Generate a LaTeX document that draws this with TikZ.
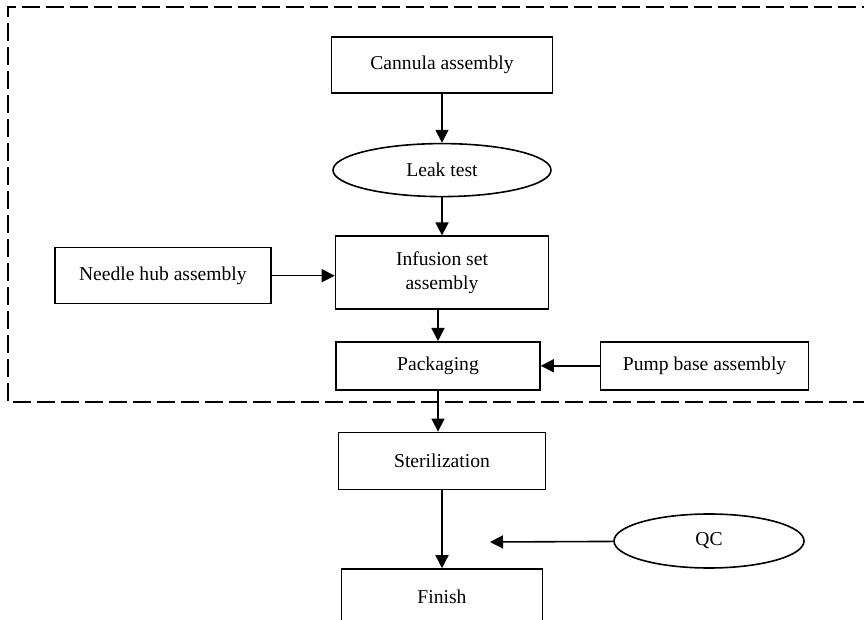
\documentclass[tikz,border=0pt]{standalone}
\usepackage{fontspec}
\setmainfont{Liberation Serif}
\usetikzlibrary{arrows.meta, positioning, shapes.geometric}

\begin{document}
\begin{tikzpicture}[x=0.5pt, y=-0.5pt, >={Triangle[length=6.5pt, width=6.5pt]},
  font=\fontsize{9.8}{12}\selectfont,
  box/.style={draw, line width=0.8pt, inner sep=0pt, align=center},
  oval/.style={draw, ellipse, line width=0.8pt, inner sep=0pt},
  flow/.style={->, line width=0.8pt}]
  \useasboundingbox (0,0) rectangle (864,620);
  \clip (0,0) rectangle (864,620);
  \draw[dash pattern=on 9pt off 3pt, line width=0.7pt] (880,7) -| (8,402) -- (880,402);

  \node[box, minimum width=110.5pt, minimum height=28pt] (cannula) at (442,65) {Cannula assembly};
  \node[oval, minimum width=109pt, minimum height=26.5pt, below=24.5pt of cannula] (leak) {Leak test};
  \node[box, minimum width=106.5pt, minimum height=36.5pt, below=19pt of leak] (infusion) {Infusion set\\assembly};
  \node[box, minimum width=102pt, minimum height=24pt, below=15.5pt of infusion, xshift=-2pt] (pack) {Packaging};
  \node[box, minimum width=103.5pt, minimum height=28.5pt, below=20.5pt of pack, xshift=2pt] (steril) {Sterilization};
  \node[box, minimum width=100.5pt, minimum height=28pt, below=39pt of steril] (finish) {Finish};
  \node[box, minimum width=108pt, minimum height=28pt, left=31.5pt of infusion, yshift=-1.5pt] (needle) {Needle hub assembly};
  \node[box, minimum width=104pt, minimum height=24pt, right=29.5pt of pack] (pump) {Pump base assembly};
  \node[oval, minimum width=95pt, minimum height=27pt] (qc) at (709,541) {QC};
  \coordinate (qcend) at (490,542);

  \draw[flow] (cannula) -- (leak);
  \draw[flow] (leak) -- (infusion);
  \draw[flow] (pack.north |- infusion.south) -- (pack);
  \draw[flow] (pack) -- (pack |- steril.north);
  \draw[flow] (steril) -- (finish);
  \draw[flow] (needle) -- (needle -| infusion.west);
  \draw[flow] (pump) -- (pack);
  \draw[flow] (qc) -- (qcend);
\end{tikzpicture}
\end{document}
